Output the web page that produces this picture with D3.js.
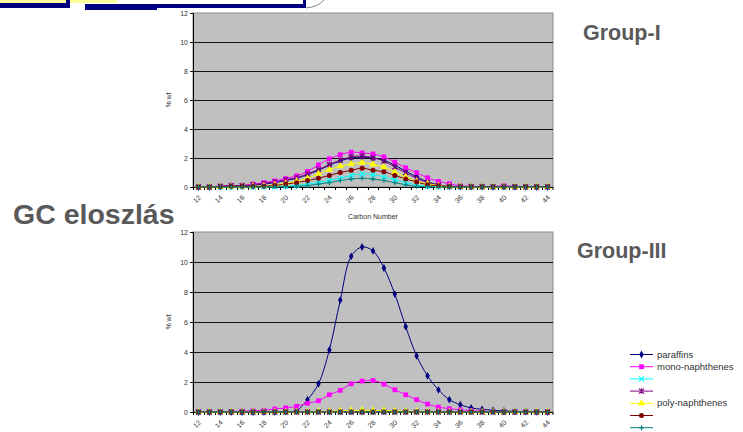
<!DOCTYPE html>
<html>
<head>
<meta charset="utf-8">
<script src="https://cdn.jsdelivr.net/npm/d3@7"></script>
<style>
  body { margin: 0; background: #fff; }
  svg { display: block; font-family: 'Liberation Sans', Arial, sans-serif; }
  .tick-label { font-size: 7px; fill: #333; }
  .big { font-weight: bold; fill: #595959; }
</style>
</head>
<body>
<div id="chart"></div>
<script>
var categories = [12, 13, 14, 15, 16, 17, 18, 19, 20, 21, 22, 23, 24, 25, 26, 27, 28,
  29, 30, 31, 32, 33, 34, 35, 36, 37, 38, 39, 40, 41, 42, 43, 44]
var yTicks = [0, 2, 4, 6, 8, 10, 12]
var seriesNames = ['paraffins', 'mono-naphthenes', '', '', 'poly-naphthenes', '', '']

// Group-I values (% wt) per carbon number
var g1Paraffins = [0, 0, 0.03, 0.08, 0.08, 0.12, 0.2, 0.3, 0.45, 0.6, 0.85, 1.15, 1.5, 1.8, 2.0, 2.05, 2.0,
  1.85, 1.5, 1.1, 0.7, 0.35, 0.15, 0.05, 0.03, 0.02, 0.02, 0.01, 0.02, 0.01, 0.01, 0, 0]
var g1Mono = [0, 0, 0.05, 0.1, 0.1, 0.2, 0.3, 0.42, 0.58, 0.77, 1.07, 1.53, 1.95, 2.23, 2.4, 2.35, 2.28,
  2.08, 1.72, 1.33, 0.99, 0.64, 0.39, 0.23, 0.08, 0.05, 0.03, 0.02, 0.09, 0.03, 0.02, 0.01, 0.01]
var g1Cyan = [0, 0, 0, 0, 0, 0, 0.01, 0.02, 0.05, 0.1, 0.2, 0.3, 0.45, 0.6, 0.8, 0.9, 0.85,
  0.7, 0.5, 0.3, 0.15, 0.05, 0.02, 0, 0, 0, 0, 0, 0, 0, 0, 0, 0]
var g1Purple = [0, 0, 0.05, 0.1, 0.1, 0.15, 0.25, 0.35, 0.5, 0.65, 0.9, 1.2, 1.55, 1.85, 2.07, 2.14, 2.02,
  1.79, 1.38, 0.99, 0.6, 0.3, 0.12, 0.05, 0.03, 0.02, 0.01, 0.01, 0.01, 0, 0, 0, 0]
var g1Poly = [0, 0, 0, 0.02, 0.03, 0.05, 0.08, 0.15, 0.25, 0.4, 0.6, 0.92, 1.2, 1.43, 1.6, 1.68, 1.56,
  1.38, 1.03, 0.69, 0.39, 0.23, 0.1, 0.04, 0.02, 0.01, 0, 0, 0, 0, 0, 0, 0]
var g1Red = [0, 0, 0.02, 0.05, 0.05, 0.05, 0.05, 0.1, 0.2, 0.3, 0.45, 0.6, 0.8, 1.0, 1.15, 1.3, 1.15,
  1.05, 0.8, 0.55, 0.35, 0.15, 0.08, 0.03, 0.02, 0.02, 0.02, 0.02, 0.02, 0.02, 0.02, 0.02, 0.02]
var g1Teal = [0, 0, 0, 0, 0, 0, 0, 0.01, 0.02, 0.05, 0.1, 0.2, 0.3, 0.45, 0.55, 0.6, 0.55,
  0.45, 0.3, 0.15, 0.05, 0.02, 0, 0, 0, 0, 0, 0, 0, 0, 0, 0, 0]

// Group-III values (% wt) per carbon number
var g3Paraffins = [0, 0, 0, 0, 0, 0, 0, 0, 0.02, 0.1, 0.82, 1.88, 4.14, 7.46, 10.38, 11.0, 10.74,
  9.6, 7.86, 5.69, 3.74, 2.41, 1.48, 0.82, 0.49, 0.27, 0.18, 0.11, 0.07, 0.04, 0.02, 0.01, 0]
var g3Mono = [0, 0, 0.02, 0.04, 0.06, 0.08, 0.12, 0.2, 0.27, 0.38, 0.58, 0.75, 1.15, 1.44, 1.88, 2.06, 2.1,
  1.86, 1.48, 1.15, 0.82, 0.53, 0.33, 0.22, 0.15, 0.09, 0.05, 0.03, 0.02, 0.01, 0, 0, 0]
var g3Cyan = [0, 0, 0, 0, 0, 0, 0, 0, 0, 0, 0, 0, 0, 0, 0, 0, 0, 0, 0, 0, 0, 0, 0, 0, 0, 0, 0, 0, 0, 0, 0, 0, 0]
var g3Purple = [0, 0, 0, 0, 0, 0, 0, 0, 0, 0, 0, 0, 0, 0, 0, 0, 0, 0, 0, 0, 0, 0, 0, 0, 0, 0, 0, 0, 0, 0, 0, 0, 0]
var g3Poly = [0, 0, 0, 0, 0, 0, 0, 0, 0, 0, 0.02, 0.04, 0.06, 0.08, 0.1, 0.12, 0.1,
  0.1, 0.08, 0.06, 0.04, 0.02, 0.01, 0, 0, 0, 0, 0, 0, 0, 0, 0, 0]
var g3Red = [0, 0, 0, 0, 0, 0, 0, 0, 0, 0, 0, 0, 0, 0, 0, 0, 0, 0, 0, 0, 0, 0, 0, 0, 0, 0, 0, 0, 0, 0, 0, 0, 0]
var g3Teal = [0, 0, 0, 0, 0, 0, 0, 0, 0, 0, 0, 0, 0, 0, 0, 0, 0, 0, 0, 0, 0, 0, 0, 0, 0, 0, 0, 0, 0, 0, 0, 0, 0]

var styles = [
  { color: '#000080', marker: 'diamond' },
  { color: '#ff00ff', marker: 'square' },
  { color: '#00ffff', marker: 'x' },
  { color: '#800080', marker: 'star' },
  { color: '#ffff00', marker: 'triangle' },
  { color: '#800000', marker: 'circle' },
  { color: '#008080', marker: 'plus' }
]

function isStroked (type) {
  return type === 'x' || type === 'plus' || type === 'star'
}

function markerPath (type, s) {
  var h = s / 2
  if (type === 'x') return 'M' + -h + ',' + -h + 'L' + h + ',' + h + 'M' + -h + ',' + h + 'L' + h + ',' + -h
  if (type === 'plus') return 'M' + -h + ',0L' + h + ',0M0,' + -h + 'L0,' + h
  if (type === 'star') return 'M' + -h + ',' + -h + 'L' + h + ',' + h + 'M' + -h + ',' + h + 'L' + h + ',' + -h + 'M0,' + -h + 'L0,' + h
  var sym = { diamond: d3.symbolDiamond, square: d3.symbolSquare, triangle: d3.symbolTriangle, circle: d3.symbolCircle }[type]
  return d3.symbol().type(sym).size(s * s * (type === 'diamond' ? 0.7 : type === 'circle' ? 0.8 : 0.9))()
}

var svg = d3.select('#chart').append('svg').attr('width', 743).attr('height', 432)

// decorative banner remnants at the top
svg.append('rect').attr('x', 0).attr('y', 0).attr('width', 117).attr('height', 3).attr('fill', '#ffff99')
svg.append('rect').attr('x', 0).attr('y', 3).attr('width', 70).attr('height', 5).attr('fill', '#000080')
svg.append('rect').attr('x', 66).attr('y', 0).attr('width', 4).attr('height', 8).attr('fill', '#000080')
svg.append('rect').attr('x', 85).attr('y', 4).attr('width', 221).attr('height', 4).attr('fill', '#000080')
svg.append('rect').attr('x', 85).attr('y', 4).attr('width', 72).attr('height', 6).attr('fill', '#000080')
svg.append('rect').attr('x', 303).attr('y', 0).attr('width', 3).attr('height', 8).attr('fill', '#000080')
svg.append('path').attr('d', 'M306,8 Q318,7 324,0').attr('fill', 'none').attr('stroke', '#888').attr('stroke-width', 1)

svg.append('text').attr('class', 'big').attr('x', 13).attr('y', 224).style('font-size', '28.5px').text('GC eloszlás')
svg.append('text').attr('class', 'big').attr('x', 583).attr('y', 40).style('font-size', '21.5px').text('Group-I')
svg.append('text').attr('class', 'big').attr('x', 577).attr('y', 258).style('font-size', '21.5px').text('Group-III')

function drawChart (top, height, data, showTitle) {
  var left = 193
  var width = 360
  var g = svg.append('g').attr('transform', 'translate(' + left + ',' + top + ')')

  var x = d3.scaleBand().domain(categories).range([0, width])
  var y = d3.scaleLinear().domain([0, 12]).range([height, 0])
  var cx = function (c) { return x(c) + x.bandwidth() / 2 }

  g.append('rect').attr('width', width).attr('height', height)
    .attr('fill', '#c0c0c0').attr('stroke', '#8c8c8c').attr('stroke-width', 1)

  g.append('g').selectAll('line').data(yTicks.filter(function (t) { return t > 0 && t < 12 }))
    .enter().append('line')
    .attr('x1', 0).attr('x2', width)
    .attr('y1', function (d) { return Math.round(y(d)) + 0.5 })
    .attr('y2', function (d) { return Math.round(y(d)) + 0.5 })
    .attr('stroke', '#111').attr('stroke-width', 1)

  var yAxis = d3.axisLeft(y).tickValues(yTicks).tickSize(3).tickPadding(2)
  var ya = g.append('g').call(yAxis)
  ya.select('.domain').attr('stroke', '#000')
  ya.selectAll('text').attr('class', 'tick-label').attr('fill', '#333').style('font-size', '7px')

  // category axis: line at zero, ticks at band boundaries
  var xa = g.append('g').attr('transform', 'translate(0,' + height + ')')
  xa.append('line').attr('x1', 0).attr('x2', width).attr('y1', 0.5).attr('y2', 0.5).attr('stroke', '#000')
  xa.selectAll('.tk').data(categories.concat(['end'])).enter().append('line')
    .attr('class', 'tk')
    .attr('x1', function (d) { return d === 'end' ? width : Math.round(x(d)) + 0.5 })
    .attr('x2', function (d) { return d === 'end' ? width : Math.round(x(d)) + 0.5 })
    .attr('y1', 0).attr('y2', 3).attr('stroke', '#000')
  xa.selectAll('.lbl').data(categories.filter(function (c, i) { return i % 2 === 0 }))
    .enter().append('text')
    .attr('class', 'tick-label')
    .attr('text-anchor', 'end')
    .attr('transform', function (d) { return 'translate(' + (cx(d) + 3) + ',11) rotate(-45)' })
    .text(function (d) { return d })

  g.append('text').attr('class', 'tick-label')
    .attr('transform', 'translate(-22,' + (height / 2) + ') rotate(-90)')
    .attr('text-anchor', 'middle').text('% wt')

  if (showTitle) {
    g.append('text').attr('class', 'tick-label').attr('x', width / 2).attr('y', height + 32)
      .attr('text-anchor', 'middle').text('Carbon Number')
  }

  var line = d3.line()
    .x(function (d, i) { return cx(categories[i]) })
    .y(function (d) { return y(d) })
    .curve(d3.curveCatmullRom)

  data.forEach(function (vals, k) {
    g.append('path').attr('d', line(vals)).attr('fill', 'none')
      .attr('stroke', styles[k].color).attr('stroke-width', 1)
  })
  data.forEach(function (vals, k) {
    var st = styles[k]
    var stroked = isStroked(st.marker)
    g.append('g').selectAll('path').data(vals).enter().append('path')
      .attr('transform', function (d, i) { return 'translate(' + cx(categories[i]) + ',' + y(d) + ')' })
      .attr('d', markerPath(st.marker, 5))
      .attr('fill', stroked ? 'none' : st.color)
      .attr('stroke', stroked ? st.color : 'none')
      .attr('stroke-width', 1.2)
  })
}

drawChart(13, 174, [g1Paraffins, g1Mono, g1Cyan, g1Purple, g1Poly, g1Red, g1Teal], true)
drawChart(232, 180, [g3Paraffins, g3Mono, g3Cyan, g3Purple, g3Poly, g3Red, g3Teal], false)

// legend
var lg = svg.append('g').attr('transform', 'translate(630,354)')
styles.forEach(function (st, k) {
  var row = lg.append('g').attr('transform', 'translate(0,' + (k * 12.2) + ')')
  row.append('line').attr('x1', 0).attr('x2', 23).attr('y1', 0.5).attr('y2', 0.5)
    .attr('stroke', st.color).attr('stroke-width', 1)
  var stroked = isStroked(st.marker)
  row.append('path').attr('transform', 'translate(11.5,0.5)')
    .attr('d', markerPath(st.marker, 5))
    .attr('fill', stroked ? 'none' : st.color)
    .attr('stroke', stroked ? st.color : 'none')
    .attr('stroke-width', 1.2)
  if (seriesNames[k]) {
    row.append('text').attr('x', 27).attr('y', 3.5).style('font-size', '9.5px').attr('fill', '#333')
      .text(seriesNames[k])
  }
})
</script>
</body>
</html>
